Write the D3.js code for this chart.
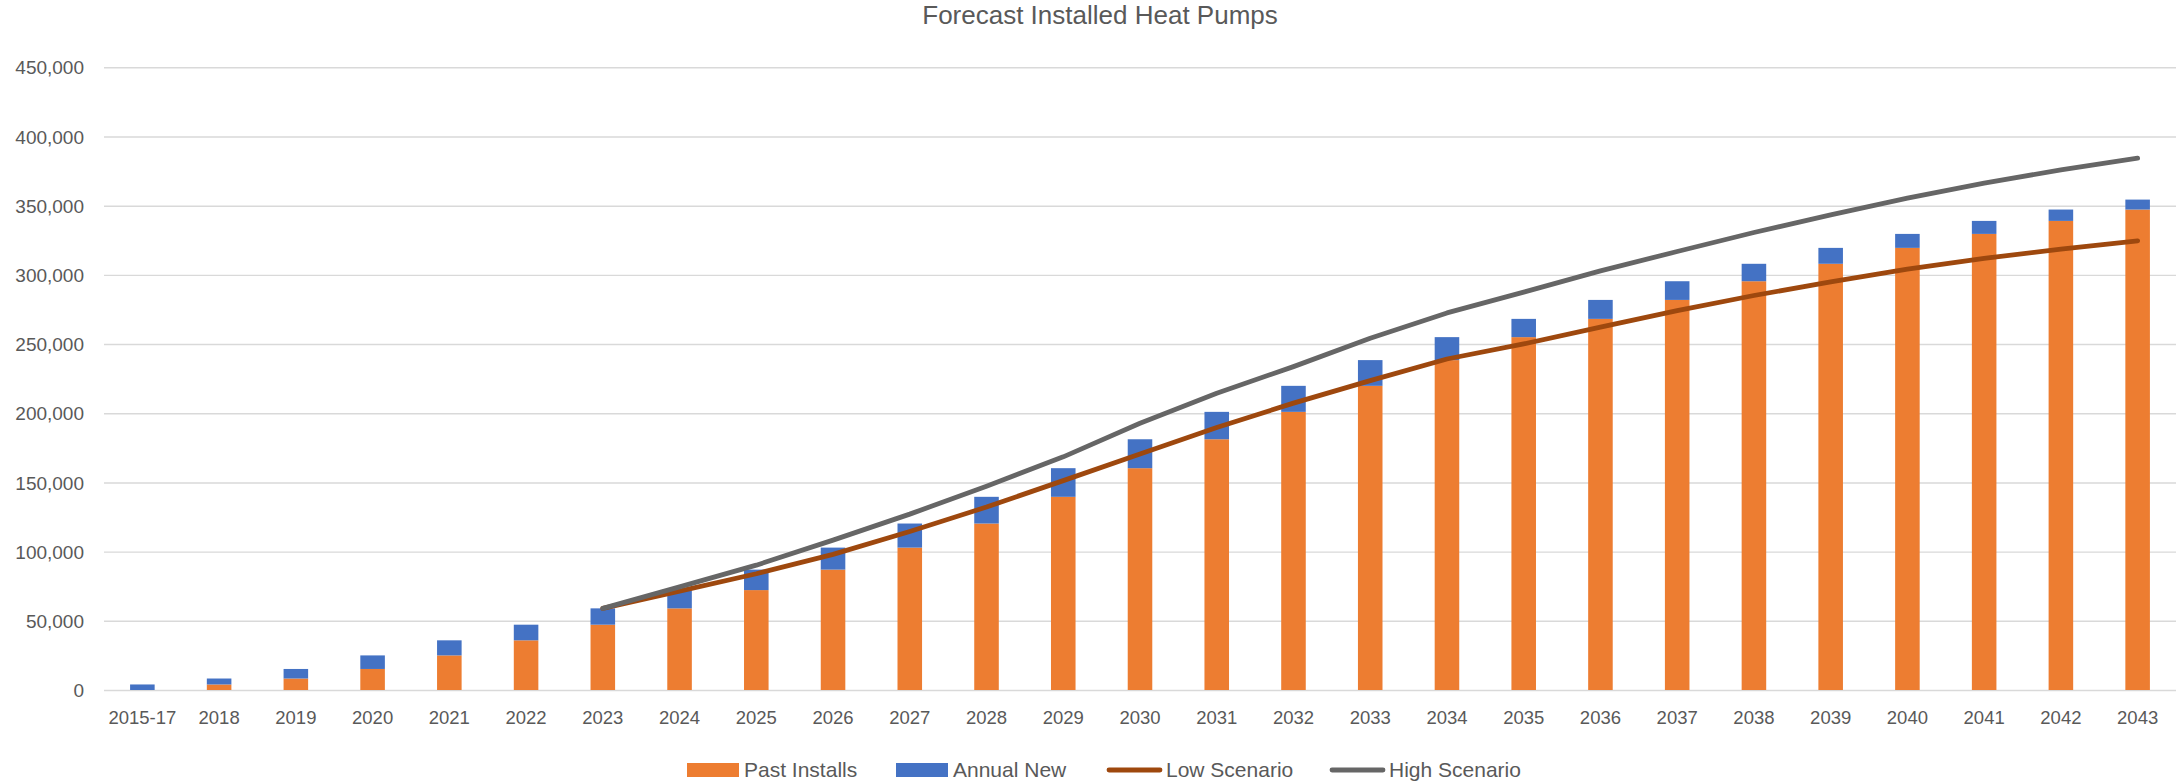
<!DOCTYPE html>
<html>
<head>
<meta charset="utf-8">
<script src="https://cdn.jsdelivr.net/npm/d3@7"></script>
<style>
  body { margin: 0; background: #fff; }
  text { font-family: "Liberation Sans", Arial, sans-serif; fill: #595959; }
</style>
</head>
<body>
<div id="chart"></div>
<script>
var years = ["2015-17", "2018", "2019", "2020", "2021", "2022", "2023", "2024", "2025",
	"2026", "2027", "2028", "2029", "2030", "2031", "2032", "2033", "2034", "2035",
	"2036", "2037", "2038", "2039", "2040", "2041", "2042", "2043"];

var pastInstalls = [0, 4000, 8300, 15200, 25000, 35900, 47200, 59000, 72200,
	87000, 102900, 120300, 139600, 160300, 181200, 201000, 219800, 238400, 255000,
	268200, 281900, 295400, 308000, 319500, 329600, 339000, 347200];

var annualNew = [4000, 4300, 6900, 9800, 10900, 11300, 11800, 13200, 14800,
	15900, 17400, 19300, 20700, 20900, 19800, 18800, 18600, 16600, 13200,
	13700, 13500, 12600, 11500, 10100, 9400, 8200, 7200];

var lowScenario = [null, null, null, null, null, null, 59000, 71500, 84000,
	98000, 114500, 132200, 151300, 170500, 189700, 207300, 223600, 239200, 250100,
	262200, 274200, 285100, 294900, 304100, 312000, 318600, 324600];

var highScenario = [null, null, null, null, null, null, 59000, 74500, 90200,
	108300, 127100, 147300, 168500, 192800, 214500, 233700, 254200, 272500, 287500,
	302900, 316900, 330600, 343400, 355400, 366300, 375900, 384300];

var yTicks = [0, 50000, 100000, 150000, 200000, 250000, 300000, 350000, 400000, 450000];

var W = 2176, H = 783;
var plotLeft = 104, plotRight = 2176, plotTop = 67.3, plotBottom = 690;

var svg = d3.select("#chart").append("svg")
	.attr("width", W)
	.attr("height", H);

var x = d3.scaleBand()
	.domain(years)
	.range([plotLeft, plotRight])
	.paddingInner(0.68)
	.paddingOuter(0.34);

var y = d3.scaleLinear()
	.domain([0, 450000])
	.range([plotBottom, plotTop]);

// title
svg.append("text")
	.attr("x", 1100)
	.attr("y", 24)
	.attr("text-anchor", "middle")
	.style("font-size", "26px")
	.text("Forecast Installed Heat Pumps");

// gridlines + y labels
var yAxis = d3.axisLeft(y)
	.tickValues(yTicks)
	.tickSize(-(plotRight - plotLeft))
	.tickPadding(20)
	.tickFormat(d3.format(","));

svg.append("g")
	.attr("transform", "translate(" + plotLeft + ",0)")
	.call(yAxis)
	.call(function(g){
		g.select(".domain").remove();
		g.selectAll("line").attr("stroke", "#d9d9d9").attr("stroke-width", 1.4);
		g.selectAll("text").style("font-size", "19px").attr("fill", "#595959").attr("dy", "0.35em");
	});

// x labels
svg.append("g")
	.attr("transform", "translate(0," + plotBottom + ")")
	.call(d3.axisBottom(x).tickSize(0).tickPadding(21))
	.call(function(g){
		g.select(".domain").remove();
		g.selectAll("text").style("font-size", "18.5px").attr("fill", "#595959");
	});

// stacked bars
var bars = years.map(function(d, i){
	return {yr: d, past: pastInstalls[i], add: annualNew[i]};
});

svg.selectAll(".past")
	.data(bars)
	.enter().append("rect")
		.attr("class", "past")
		.attr("fill", "#ed7d31")
		.attr("x", function(d){ return x(d.yr); })
		.attr("width", x.bandwidth())
		.attr("y", function(d){ return y(d.past); })
		.attr("height", function(d){ return y(0) - y(d.past); });

svg.selectAll(".annual")
	.data(bars)
	.enter().append("rect")
		.attr("class", "annual")
		.attr("fill", "#4472c4")
		.attr("x", function(d){ return x(d.yr); })
		.attr("width", x.bandwidth())
		.attr("y", function(d){ return y(d.past + d.add); })
		.attr("height", function(d){ return y(d.past) - y(d.past + d.add); });

// scenario lines
var line = d3.line()
	.defined(function(d){ return d.v != null; })
	.x(function(d){ return x(d.yr) + x.bandwidth() / 2; })
	.y(function(d){ return y(d.v); });

function drawLine(vals, colour){
	var pts = years.map(function(d, i){ return {yr: d, v: vals[i]}; });
	svg.append("path")
		.datum(pts)
		.attr("fill", "none")
		.attr("stroke", colour)
		.attr("stroke-width", 4.8)
		.attr("stroke-linecap", "round")
		.attr("stroke-linejoin", "round")
		.attr("d", line);
}
drawLine(lowScenario, "#9e480e");
drawLine(highScenario, "#666666");

// legend
var legend = [
	{name: "Past Installs", colour: "#ed7d31", type: "box", x: 687},
	{name: "Annual New", colour: "#4472c4", type: "box", x: 896},
	{name: "Low Scenario", colour: "#9e480e", type: "line", x: 1107},
	{name: "High Scenario", colour: "#666666", type: "line", x: 1330}
];

var lg = svg.selectAll(".legend")
	.data(legend)
	.enter().append("g")
		.attr("class", "legend");

lg.filter(function(d){ return d.type == "box"; })
	.append("rect")
		.attr("x", function(d){ return d.x; })
		.attr("y", 763)
		.attr("width", 52)
		.attr("height", 14)
		.attr("fill", function(d){ return d.colour; });

lg.filter(function(d){ return d.type == "line"; })
	.append("line")
		.attr("x1", function(d){ return d.x + 2; })
		.attr("x2", function(d){ return d.x + 53; })
		.attr("y1", 770)
		.attr("y2", 770)
		.attr("stroke", function(d){ return d.colour; })
		.attr("stroke-width", 4.8)
		.attr("stroke-linecap", "round");

lg.append("text")
	.attr("x", function(d){ return d.x + (d.type == "box" ? 57 : 59); })
	.attr("y", 777)
	.style("font-size", "21px")
	.text(function(d){ return d.name; });
</script>
</body>
</html>
